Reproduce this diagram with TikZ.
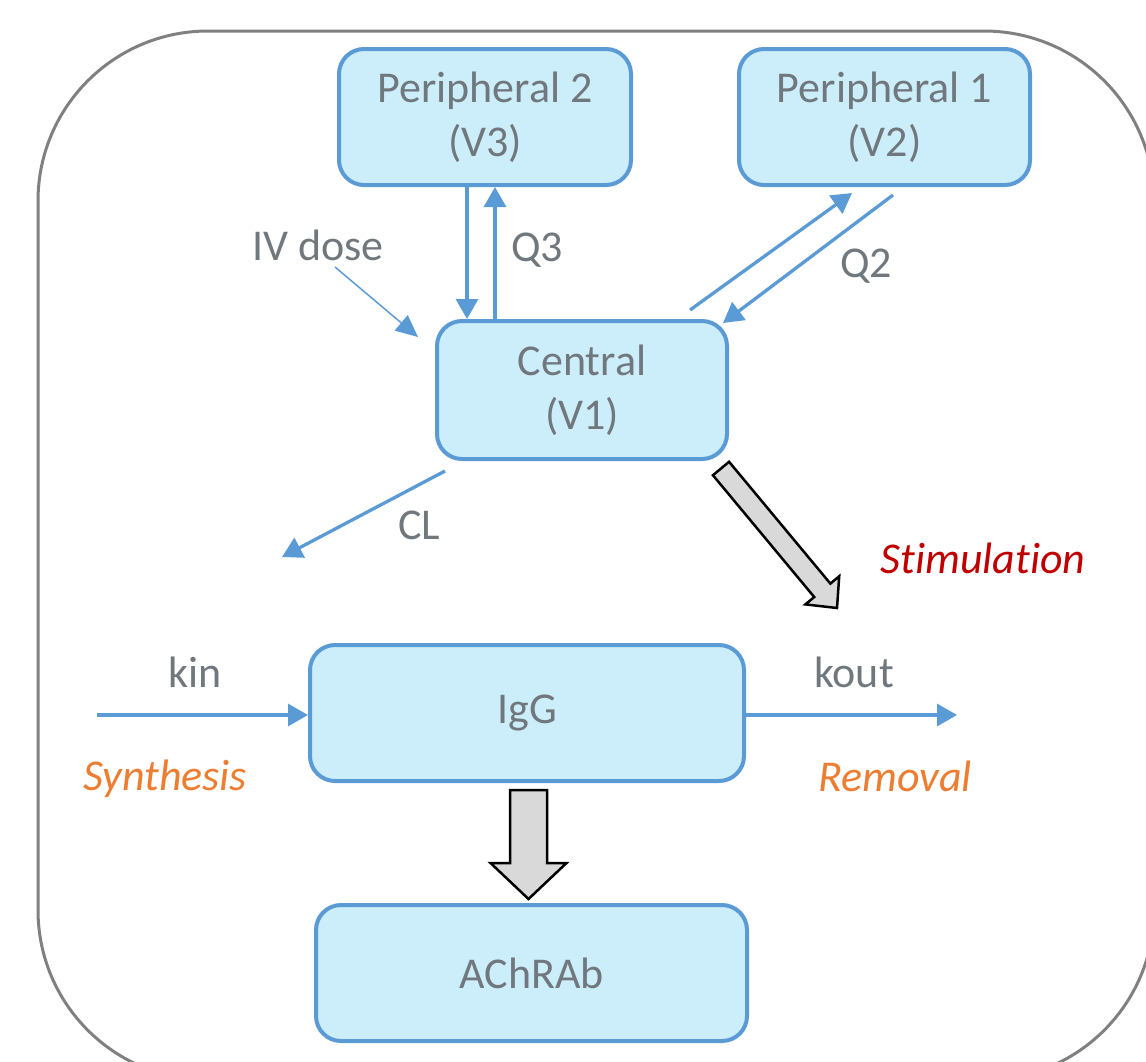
\documentclass[tikz,border=0pt]{standalone}
\usepackage{fontspec}
\setmainfont{Carlito}[Ligatures=NoCommon]
\usetikzlibrary{arrows.meta,calc}
\definecolor{boxfill}{RGB}{204,238,250}
\definecolor{boxline}{RGB}{91,155,213}
\definecolor{txtgray}{RGB}{112,120,126}
\definecolor{orng}{RGB}{237,125,49}
\definecolor{dred}{RGB}{192,0,0}
\definecolor{blkfill}{RGB}{217,217,217}
\definecolor{frameclr}{RGB}{128,128,128}
\newcommand{\blkarrow}[5]{%
  \draw[blockar] ($(#1)!#3!90:(#2)$) --
    ($(#2)!#5!(#1)!#3!90:(#2)$) --
    ($(#2)!#5!(#1)!#4!90:(#2)$) --
    (#2) --
    ($(#2)!#5!(#1)!#4!-90:(#2)$) --
    ($(#2)!#5!(#1)!#3!-90:(#2)$) --
    ($(#1)!#3!-90:(#2)$) -- cycle;}
\begin{document}
\begin{tikzpicture}[x=1pt,y=-1pt,
  comp/.style={draw=boxline, line width=4pt, fill=boxfill, rounded corners=25pt,
    minimum width=#1, minimum height=136pt, inner sep=0pt, align=center,
    text=txtgray, font=\fontsize{44}{54}\selectfont},
  comp/.default=292pt,
  lbl/.style={text=txtgray, font=\fontsize{44}{54}\selectfont, inner sep=0pt, anchor=base},
  ilbl/.style={font=\fontsize{44}{54}\selectfont\itshape, inner sep=0pt, anchor=base},
  flow/.style={draw=boxline, line width=3.3pt, -{Triangle[length=20pt,width=22pt]}},
  thinflow/.style={draw=boxline, line width=1.5pt, -{Triangle[length=22pt,width=20pt]}},
  blockar/.style={draw=black, line width=2.5pt, fill=blkfill, line join=miter},
  frame/.style={draw=frameclr, line width=3pt, rounded corners=170pt}]
\useasboundingbox (0,0) rectangle (1146,1061);
\begin{scope}
  \clip (0,0) rectangle (1146,1061);
  \draw[frame] (38,31) rectangle (1154,1080);
\end{scope}

% compartments
\node[comp=292pt] (P2) at (485,117) {Peripheral 2\\(V3)};
\node[comp=291pt] (P1) at (884.5,117) {Peripheral 1\\(V2)};
\node[comp=290pt, minimum height=138pt] (C) at (582,390) {Central\\(V1)};
\node[comp=434pt] (I) at (527,713) {IgG};
\node[comp=431pt] (A) at (531.5,973) {AChRAb};

% labels
\node[lbl] (iv) at (318,260) {IV dose};
\node[lbl] (q3) at (537,261) {Q3};
\node[lbl] (q2) at (866,277) {Q2};
\node[lbl] (cl) at (419,539) {CL};
\node[lbl] (kin) at (195,687) {kin};
\node[lbl] (kout) at (854,687) {kout};
\node[ilbl, text=orng] (syn) at (165,790) {Synthesis};
\node[ilbl, text=orng] (rem) at (895,791) {Removal};
\node[ilbl, text=dred] (stim) at (983,573) {Stimulation};

% free ends
\coordinate (ivS) at (335,267);
\coordinate (ivE) at (418,337);
\coordinate (q2a) at (690,310);
\coordinate (q2b) at (852,193);
\coordinate (q2c) at (893,195);
\coordinate (q2d) at (723,323);
\coordinate (clS) at (445,471);
\coordinate (clE) at (282,557);
\coordinate (kinS) at (97,715);
\coordinate (koutE) at (957,715);
\coordinate (stS) at (721,468.5);
\coordinate (stE) at (837,608);
\coordinate (igS) at (528.5,790);
\coordinate (igE) at (528.5,899);

% connectors
\draw[flow] ([xshift=-18pt]P2.south) -- ([xshift=-18pt]P2.south |- C.north);
\draw[flow] ([xshift=10pt]P2.south |- C.north) -- ([xshift=10pt]P2.south);
\draw[thinflow] (ivS) -- (ivE);
\draw[flow] (q2a) -- (q2b);
\draw[flow] (q2c) -- (q2d);
\draw[flow] (clS) -- (clE);
\draw[flow] (kinS) -- (kinS -| I.west);
\draw[flow] (kinS -| I.east) -- (koutE);

% block arrows
\blkarrow{stS}{stE}{10.5pt}{22pt}{23pt}
\blkarrow{igS}{igE}{18.5pt}{38pt}{36pt}
\end{tikzpicture}
\end{document}
